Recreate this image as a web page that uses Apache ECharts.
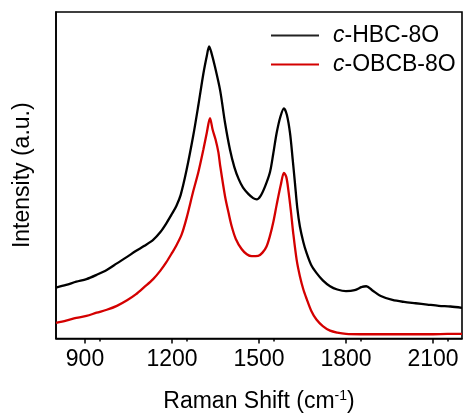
<!DOCTYPE html>
<html>
<head>
<meta charset="utf-8">
<script src="https://cdn.jsdelivr.net/npm/echarts@6/dist/echarts.min.js"></script>
<style>html,body{margin:0;padding:0;background:#fff}#c{width:464px;height:418px}</style>
</head>
<body>
<div id="c"></div>
<script>
// Raman shift (cm-1) and intensity (a.u.) for each sample
const hbcShift = [800,835,870,905,940,975,1010,1045,1075,1105,1135,1160,1180,1200,1215,1230,1250,1273,1291,1308,1320,1328,1336,1348,1366,1383,1400,1415,1430,1445,1463,1480,1492,1505,1521,1538,1549,1561,1574,1586,1596,1607,1616,1624,1632,1641,1653,1664,1680,1698,1720,1745,1770,1800,1830,1855,1870,1890,1920,1960,2000,2040,2080,2120,2160,2200];
const hbcIntensity = [15.6,16.4,17.4,18.2,19.5,21.0,23.0,25.0,26.8,28.4,30.2,32.6,35.2,38.2,40.6,44.0,51.5,62.0,71.5,81.0,86.5,89.5,87.5,83.3,76.0,66.0,57.8,52.5,48.8,46.2,44.3,43.0,42.6,43.6,46.6,51.0,56.5,63.0,68.0,70.5,68.5,62.9,55.0,47.6,40.0,34.3,29.5,26.2,22.5,20.1,17.8,16.0,15.0,14.5,14.8,15.8,16.0,14.8,13.0,11.8,11.2,10.8,10.4,10.0,9.8,9.4];
const obcbShift = [800,835,870,905,940,975,1010,1045,1075,1105,1135,1160,1180,1200,1215,1233,1250,1273,1291,1308,1320,1331,1340,1350,1360,1366,1383,1395,1406,1420,1440,1458,1475,1497,1512,1526,1538,1549,1561,1575,1586,1594,1601,1610,1618,1630,1641,1653,1664,1680,1698,1720,1745,1770,1800,1850,1900,1950,2000,2050,2100,2150,2200];
const obcbIntensity = [4.8,5.5,6.3,6.9,7.9,8.8,10.0,11.7,13.5,15.8,18.2,20.8,23.3,26.2,28.5,31.8,36.8,45.0,51.0,57.8,63.0,67.5,64.0,61.0,57.0,53.0,43.5,38.5,34.3,30.5,27.4,25.8,25.2,25.3,26.3,28.2,31.5,35.5,41.0,47.0,50.7,49.5,45.6,39.0,32.3,24.0,19.1,15.0,12.2,8.5,5.8,3.8,2.4,1.8,1.4,1.3,1.3,1.3,1.3,1.3,1.3,1.4,1.4];
const xTicks = [900,1200,1500,1800,2100];
const seriesNames = ['c-HBC-8O','c-OBCB-8O'];

const FONT = '"Liberation Sans", Arial, sans-serif';
const pair = (xs, ys) => xs.map((x, i) => [x, ys[i]]);

const chart = echarts.init(document.getElementById('c'), null, {renderer: 'canvas'});
chart.setOption({
  animation: false,
  backgroundColor: '#fff',
  grid: {left: 56, right: 2, top: 12, bottom: 79, show: true, borderColor: '#000', borderWidth: 1.6, backgroundColor: 'transparent'},
  legend: {
    orient: 'vertical', left: 266, top: 19, itemGap: 6,
    itemWidth: 48, itemHeight: 2, icon: 'rect',
    data: seriesNames,
    formatter: n => '{i|c}' + n.slice(1),
    textStyle: {fontFamily: FONT, fontSize: 23, color: '#000', padding: [0,0,0,9],
      rich: {i: {fontFamily: FONT, fontSize: 23, fontStyle: 'italic', color: '#000'}}}
  },
  xAxis: {
    type: 'value', min: 800, max: 2200, interval: 300,
    name: 'Raman Shift (cm{s|-1})', nameLocation: 'middle', nameGap: 51,
    nameTextStyle: {fontFamily: FONT, fontSize: 23, color: '#000',
      rich: {s: {fontFamily: FONT, fontSize: 14, color: '#000', verticalAlign: 'top', padding: [0,0,10,0]}}},
    axisLine: {show: true, lineStyle: {color: '#000', width: 1.6}},
    axisTick: {show: true, inside: false, length: 5, lineStyle: {color: '#000', width: 1.5},
      customValues: xTicks},
    minorTick: {show: true, splitNumber: 2, length: 3, lineStyle: {color: '#000', width: 1.5}},
    axisLabel: {fontFamily: FONT, fontSize: 23, color: '#000', margin: 10,
      customValues: xTicks, formatter: v => String(v)},
    splitLine: {show: false}
  },
  yAxis: {
    type: 'value', min: 0, max: 100,
    name: 'Intensity (a.u.)', nameLocation: 'middle', nameGap: 22,
    nameTextStyle: {fontFamily: FONT, fontSize: 23, color: '#000'},
    axisLine: {show: true, lineStyle: {color: '#000', width: 1.6}},
    axisTick: {show: false}, axisLabel: {show: false}, splitLine: {show: false}
  },
  series: [
    {name: seriesNames[0], type: 'line', data: pair(hbcShift, hbcIntensity), showSymbol: false,
      smooth: 0.3, lineStyle: {color: '#000', width: 2.3}, itemStyle: {color: '#222'}},
    {name: seriesNames[1], type: 'line', data: pair(obcbShift, obcbIntensity), showSymbol: false,
      smooth: 0.3, lineStyle: {color: '#d40000', width: 2.3}, itemStyle: {color: '#d40000'}}
  ]
});
</script>
</body>
</html>
